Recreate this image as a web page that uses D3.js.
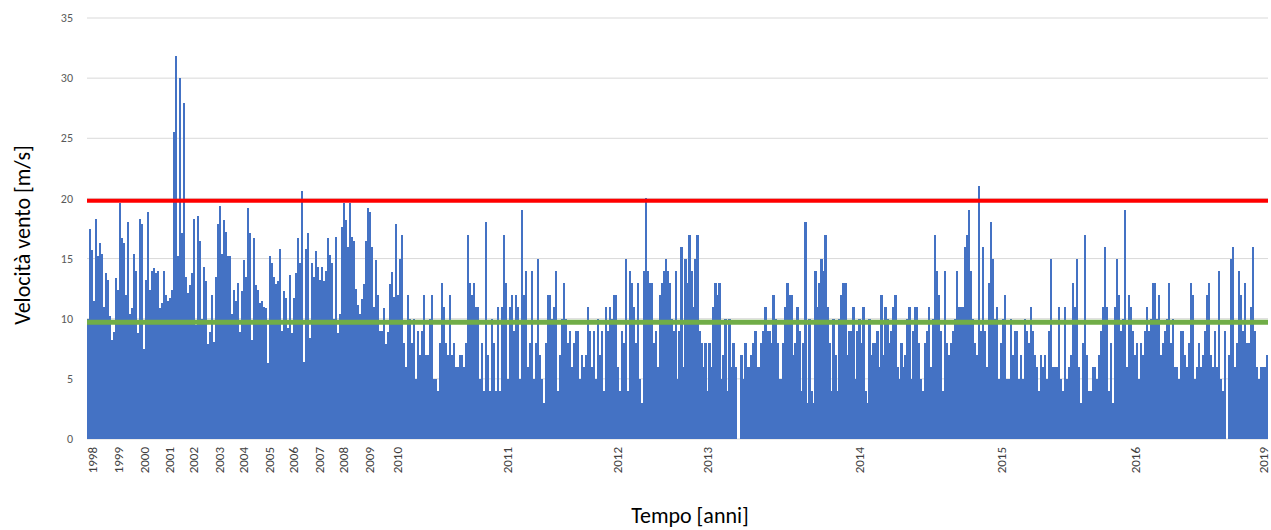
<!DOCTYPE html>
<html>
<head>
<meta charset="utf-8">
<script src="https://cdn.jsdelivr.net/npm/d3@7"></script>
<style>
  body { margin: 0; background: #ffffff; }
  svg { display: block; }
  text { font-family: Carlito, Lato, "Liberation Sans", sans-serif; }
</style>
</head>
<body>
<svg id="chart" width="1271" height="530"></svg>
<script>
// Wind speed record (m/s), 1998–2009 section
const speedEarly = [
  10, 17.5, 15.7, 11.5, 18.3, 15.2, 16.3, 15.4, 11, 13.8,
  13.2, 10.2, 8.2, 8.9, 13.4, 12.4, 19.6, 16.7, 16.3, 12,
  18, 10.4, 10.9, 15.4, 14, 8.8, 18.3, 17.9, 7.5, 13.2,
  18.9, 12.4, 14, 14.2, 13.8, 14, 10.9, 11.3, 14, 12,
  11.5, 11.7, 12.4, 25.5, 31.8, 15.2, 30, 17.1, 27.9,
  13.5, 12.1, 12.8, 13.8, 18.3, 9.5, 18.5, 16.5, 10, 14.3,
  13.1, 7.9, 8.9, 12, 8.1, 13.5, 17.9, 19.4, 15.4, 18.2,
  17.2, 15.2, 15.2, 10.4, 12.4, 11.5, 13, 8.9, 12.3, 14.9,
  13.5, 19.2, 17.1, 8.2, 16.7, 12.8, 12.4, 11.3, 11.5, 11,
  10.9, 6.3, 15.2, 14.6, 13.5, 12.9, 13.1, 15.8, 9, 12.3,
  11.7, 9.2, 13.6, 8.8, 11.7, 13.8, 16.7, 14.6, 20.6, 6.4,
  15.8, 17.1, 8.4, 14.6, 13.5, 15.6, 14.3, 13.2, 14.3, 13.1,
  14, 16.7, 15.3, 14.6, 10, 16.8, 8.8, 10.4, 17.6, 19.6,
  18.2, 16, 19.6, 16.8, 16.5, 12.5, 11.1, 10.4, 11.6, 12.9,
  16.5, 19.2, 18.9, 16, 11, 14.9, 12, 9, 9,
  10.9, 7.9, 8.9, 12.9, 13.9, 11.8, 17.9
];

// Wind speed record (m/s), 2010–2019 section
const speedLate = [
  12, 15, 17, 8, 6, 12, 10, 8, 10, 5,
  9, 7, 9, 12, 7, 7, 10, 12, 5, 5,
  4, 8, 13, 11, 8, 7, 12, 7, 8, 6,
  6, 7, 7, 6, 8, 17, 13, 12, 13, 11,
  11, 5, 8,
  4, 18, 7, 4, 10, 8, 4, 11, 4, 11,
  17, 13, 5, 11, 12, 9, 12, 11, 5, 19,
  12, 14, 6, 8, 14, 5, 8, 15, 7, 5,
  3, 8, 12, 12, 10, 11, 14, 4, 7, 10,
  13, 10, 8, 9, 6, 8, 9, 9, 5,
  7, 6, 7, 11, 9, 6, 9, 5, 10, 7,
  9, 4, 11, 9, 11, 10, 12, 12, 6, 4,
  9, 8, 15, 4, 14, 13, 11, 8, 13, 5,
  3, 14, 20, 14, 13, 13, 8, 9, 6, 12,
  13, 14, 15, 14, 13, 10, 9, 14, 5, 9,
  16, 6, 15, 13, 17, 14, 11, 15, 17, 9,
  8, 6, 8, 4, 8, 6, 11, 13, 12, 13,
  5, 7, 10, 4, 10, 6, 8, 6, 0, 0,
  7, 5, 8, 6, 6, 7, 8, 9, 6, 6,
  8, 9, 11, 9, 9, 8, 12, 10, 8,
  5, 5, 8, 11, 13, 12, 12, 7, 8, 11,
  9, 4, 8, 18, 3, 10, 4, 3, 14, 11,
  13, 15, 14, 17, 11, 8, 4, 10, 7, 4,
  10, 12, 13, 13, 7, 9, 9, 11, 5, 9,
  10, 8, 11, 4, 3, 10, 7, 8, 8, 9,
  6, 12, 7, 11, 10, 8, 9, 11, 12, 6,
  5, 8, 6, 7, 10, 11, 5, 9, 11, 11,
  8, 5, 4, 8, 9, 11, 6, 10, 17, 14,
  12, 9, 4, 14, 8, 7, 8, 9, 10, 14,
  11, 11, 11, 16, 17, 19, 14, 10, 8,
  7, 21, 9, 16, 9, 6, 13, 18, 15, 10,
  11, 5, 8, 10, 12, 5, 5, 10, 7, 9,
  9, 5, 7, 5, 10, 9, 8, 11, 9, 7,
  6, 4, 7, 6, 7, 5, 9, 15, 6, 6,
  6, 11, 5, 4, 11, 5, 6, 7, 13, 11,
  15, 6, 3, 8, 17, 7, 4, 4, 6, 6,
  5, 7, 9, 11, 16, 11, 4, 8, 3, 11,
  15, 12, 9, 10, 19, 6, 12, 11, 9, 7,
  8, 5, 8, 7, 9, 11, 9, 10, 13, 13,
  10, 12, 7, 8, 9, 10, 13, 8, 10,
  6, 6, 5, 9, 9, 7, 6, 8, 13, 12,
  5, 6, 8, 6, 7, 9, 12, 13, 7, 6,
  9, 6, 14, 5, 4, 9, 0, 7, 15, 16,
  6, 8, 14, 12, 9, 13, 8, 8, 11, 16,
  9, 6, 5, 6, 6, 6, 7
];

// Year labels on the time axis and the record they sit under
const yearLabels = ["1998", "1999", "2000", "2001", "2002", "2003", "2004", "2005", "2006", "2007",
                    "2008", "2009", "2010", "2011", "2012", "2013", "2014", "2015", "2016", "2019"];
const yearIndex  = [2, 15, 28, 41, 53, 66, 78, 91, 103, 116,
                    128, 141, 155, 210, 265, 310, 386, 457, 524, 588];

const yTicks = [0, 5, 10, 15, 20, 25, 30, 35];

// Reference levels
const limitSpeed = 19.8;
const meanSpeed = 9.7;

const speeds = speedEarly.concat(speedLate);

const svg = d3.select("#chart");
const plot = { left: 87, right: 1268, top: 18, bottom: 439 };

const x = d3.scaleBand()
  .domain(d3.range(speeds.length))
  .range([plot.left, plot.right])
  .padding(0);

const y = d3.scaleLinear()
  .domain([0, 35])
  .range([plot.bottom, plot.top]);

// Horizontal gridlines
svg.append("g")
  .selectAll("line")
  .data(yTicks)
  .join("line")
  .attr("x1", plot.left)
  .attr("x2", plot.right)
  .attr("y1", d => y(d))
  .attr("y2", d => y(d))
  .attr("stroke", "#d9d9d9")
  .attr("stroke-width", 1);

// Y axis labels
svg.append("g")
  .selectAll("text")
  .data(yTicks)
  .join("text")
  .attr("x", 73)
  .attr("y", d => y(d))
  .attr("dy", "0.35em")
  .attr("text-anchor", "end")
  .attr("font-size", 12)
  .attr("fill", "#595959")
  .text(d => d);

// Wind speed bars
svg.append("g")
  .attr("shape-rendering", "crispEdges")
  .selectAll("rect")
  .data(speeds)
  .join("rect")
  .attr("x", (d, i) => x(i))
  .attr("width", x.bandwidth() + 0.2)
  .attr("y", d => y(d))
  .attr("height", d => y(0) - y(d))
  .attr("fill", "#4472c4");

// Threshold and mean lines
svg.append("line")
  .attr("x1", plot.left).attr("x2", plot.right)
  .attr("y1", y(limitSpeed)).attr("y2", y(limitSpeed))
  .attr("stroke", "#ff0000").attr("stroke-width", 4);

svg.append("line")
  .attr("x1", plot.left).attr("x2", plot.right)
  .attr("y1", y(meanSpeed)).attr("y2", y(meanSpeed))
  .attr("stroke", "#70ad47").attr("stroke-width", 5);

// Year labels, rotated
svg.append("g")
  .selectAll("text")
  .data(yearLabels)
  .join("text")
  .attr("transform", (d, i) => `translate(${x(yearIndex[i]) + x.bandwidth() / 2},447) rotate(-90)`)
  .attr("dy", "0.35em")
  .attr("text-anchor", "end")
  .attr("font-size", 13)
  .attr("fill", "#404040")
  .text(d => d);

// Axis titles
svg.append("text")
  .attr("transform", "translate(22,235) rotate(-90)")
  .attr("dy", "0.35em")
  .attr("text-anchor", "middle")
  .attr("font-size", 22)
  .attr("fill", "#000000")
  .text("Velocità vento [m/s]");

svg.append("text")
  .attr("x", 690)
  .attr("y", 523)
  .attr("text-anchor", "middle")
  .attr("font-size", 22)
  .attr("fill", "#000000")
  .text("Tempo [anni]");
</script>
</body>
</html>
